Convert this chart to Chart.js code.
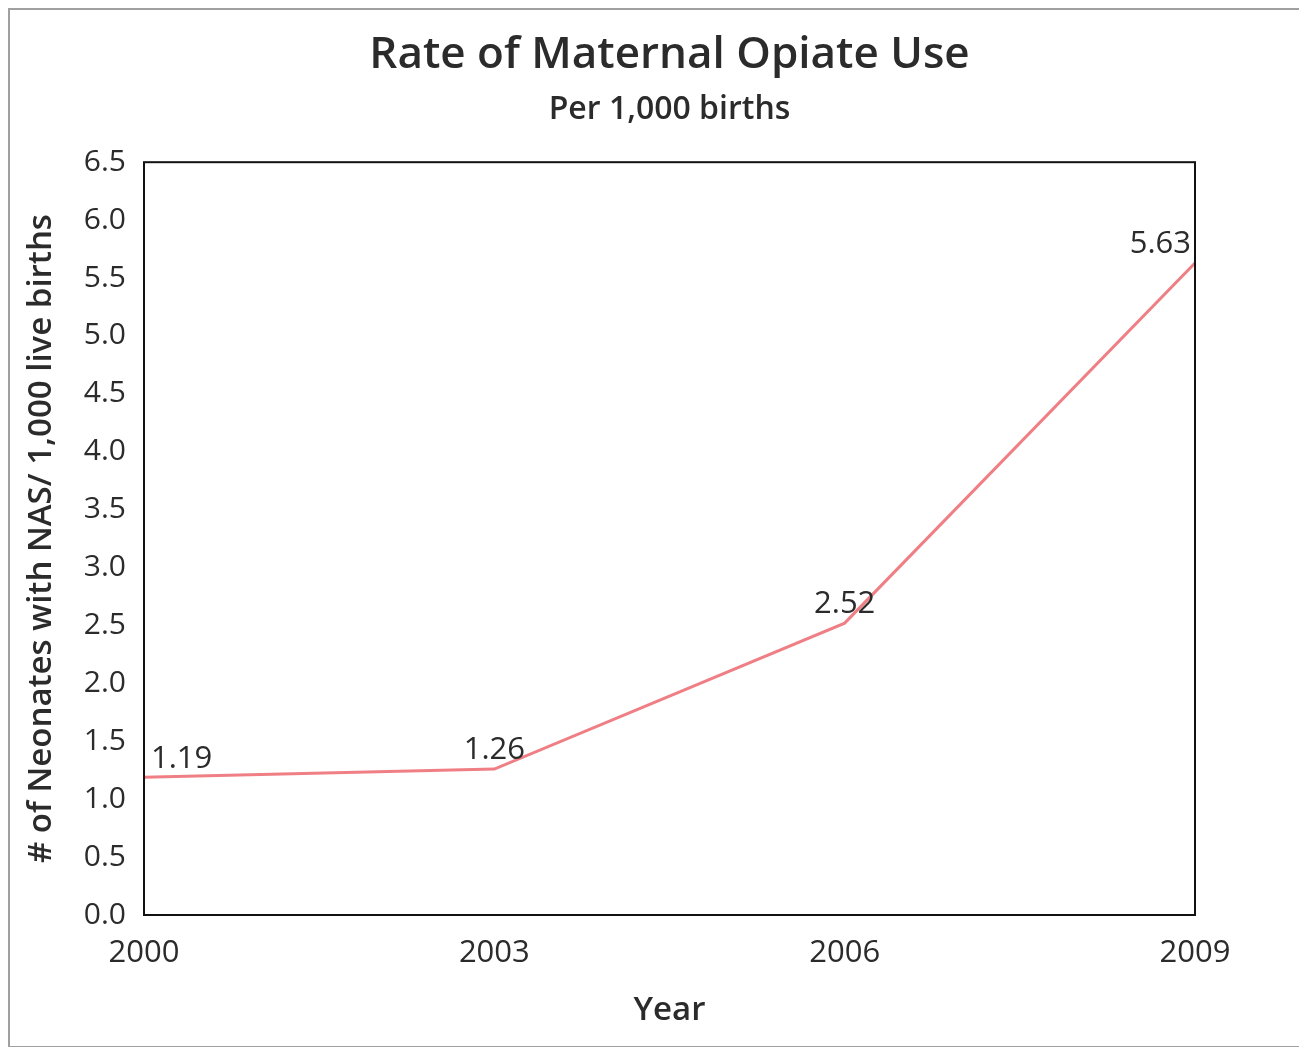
<!DOCTYPE html>
<html>
<head>
<meta charset="utf-8">
<script src="https://cdn.jsdelivr.net/npm/chart.js@4"></script>
<style>
  html, body { margin: 0; padding: 0; background: #fff; overflow: hidden; }
  #frame {
    position: absolute; left: 8px; top: 8px; width: 1300px; height: 1036px;
    border-left: 2px solid #a0a0a0; border-top: 2px solid #a0a0a0; border-bottom: 2px solid #a0a0a0;
  }
  #wrap { position: absolute; left: 0; top: 0; width: 1299px; height: 1047px; }
</style>
</head>
<body>
<div id="frame"></div>
<div id="wrap"><canvas id="chart-opiate-use"></canvas></div>
<script>
const years = ['2000', '2003', '2006', '2009'];
const rates = [1.19, 1.26, 2.52, 5.63];
const yTicks = [0, 0.5, 1, 1.5, 2, 2.5, 3, 3.5, 4, 4.5, 5, 5.5, 6, 6.5];

const textColor = '#2b2b2b';
const fontFamily = '"Open Sans", sans-serif';

// black box round the plot area
const plotBox = {
  id: 'plotBox',
  afterDatasetsDraw(chart) {
    const { ctx, chartArea: a } = chart;
    ctx.save();
    ctx.strokeStyle = '#111';
    ctx.lineWidth = 2;
    ctx.strokeRect(a.left, a.top, a.right - a.left, a.bottom - a.top);
    ctx.restore();
  }
};

// value labels above each point, kept inside the plot area
const valueLabels = {
  id: 'valueLabels',
  afterDatasetsDraw(chart) {
    const { ctx, chartArea: a } = chart;
    const meta = chart.getDatasetMeta(0);
    ctx.save();
    ctx.font = '31px ' + fontFamily;
    ctx.fillStyle = textColor;
    ctx.textBaseline = 'bottom';
    ctx.textAlign = 'left';
    meta.data.forEach((pt, i) => {
      const txt = rates[i].toFixed(2);
      const w = ctx.measureText(txt).width;
      let x = pt.x - w / 2;
      if (x < a.left + 7) x = a.left + 7;
      if (x + w > a.right - 4) x = a.right - 4 - w;
      ctx.fillText(txt, x, pt.y - 3);
    });
    ctx.restore();
  }
};

const data = {
  labels: years,
  datasets: [{
    data: rates,
    borderColor: '#ef7f84',
    borderWidth: 3,
    pointRadius: 0,
    tension: 0,
    fill: false
  }]
};

const configurations = {
  type: 'line',
  data: data,
  plugins: [plotBox, valueLabels],
  options: {
    responsive: false,
    animation: false,
    layout: { padding: { top: 14, left: 10, right: 104, bottom: 0 } },
    plugins: {
      legend: { display: false },
      tooltip: { enabled: false },
      title: {
        display: true,
        fullSize: false,
        text: 'Rate of Maternal Opiate Use',
        color: '#2b2b2b',
        font: { family: fontFamily, size: 44, weight: '600', lineHeight: 1.2 },
        padding: { top: 15, bottom: 0 }
      },
      subtitle: {
        display: true,
        fullSize: false,
        text: 'Per 1,000 births',
        color: '#2b2b2b',
        font: { family: fontFamily, size: 32, weight: '600', lineHeight: 1.2 },
        padding: { top: 9, bottom: 33 }
      }
    },
    scales: {
      x: {
        type: 'category',
        offset: false,
        grid: { display: false, drawTicks: false },
        border: { display: false },
        ticks: {
          color: textColor,
          font: { family: fontFamily, size: 31 },
          padding: 20,
          maxRotation: 0
        },
        title: {
          display: true,
          text: 'Year',
          color: '#2b2b2b',
          font: { family: fontFamily, size: 33, weight: '600', lineHeight: 1.2 },
          padding: { top: 0, bottom: 17 }
        },
        afterFit(scale) { scale.height = 1047 - 915; }
      },
      y: {
        min: 0,
        max: 6.5,
        grid: { display: false, drawTicks: false },
        border: { display: false },
        afterBuildTicks(scale) { scale.ticks = yTicks.map(v => ({ value: v })); },
        ticks: {
          color: textColor,
          font: { family: fontFamily, size: 30 },
          padding: 18,
          callback: v => Number(v).toFixed(1)
        },
        title: {
          display: true,
          text: '# of Neonates with NAS/ 1,000 live births',
          color: '#2b2b2b',
          font: { family: fontFamily, size: 33, weight: '600', lineHeight: 1.2 },
          padding: { top: 12, bottom: 0 }
        },
        afterFit(scale) { scale.width = 134; }
      }
    }
  }
};

const canvas = document.getElementById('chart-opiate-use');
canvas.width = 1299;
canvas.height = 1047;
new Chart(canvas, configurations);
</script>
</body>
</html>
